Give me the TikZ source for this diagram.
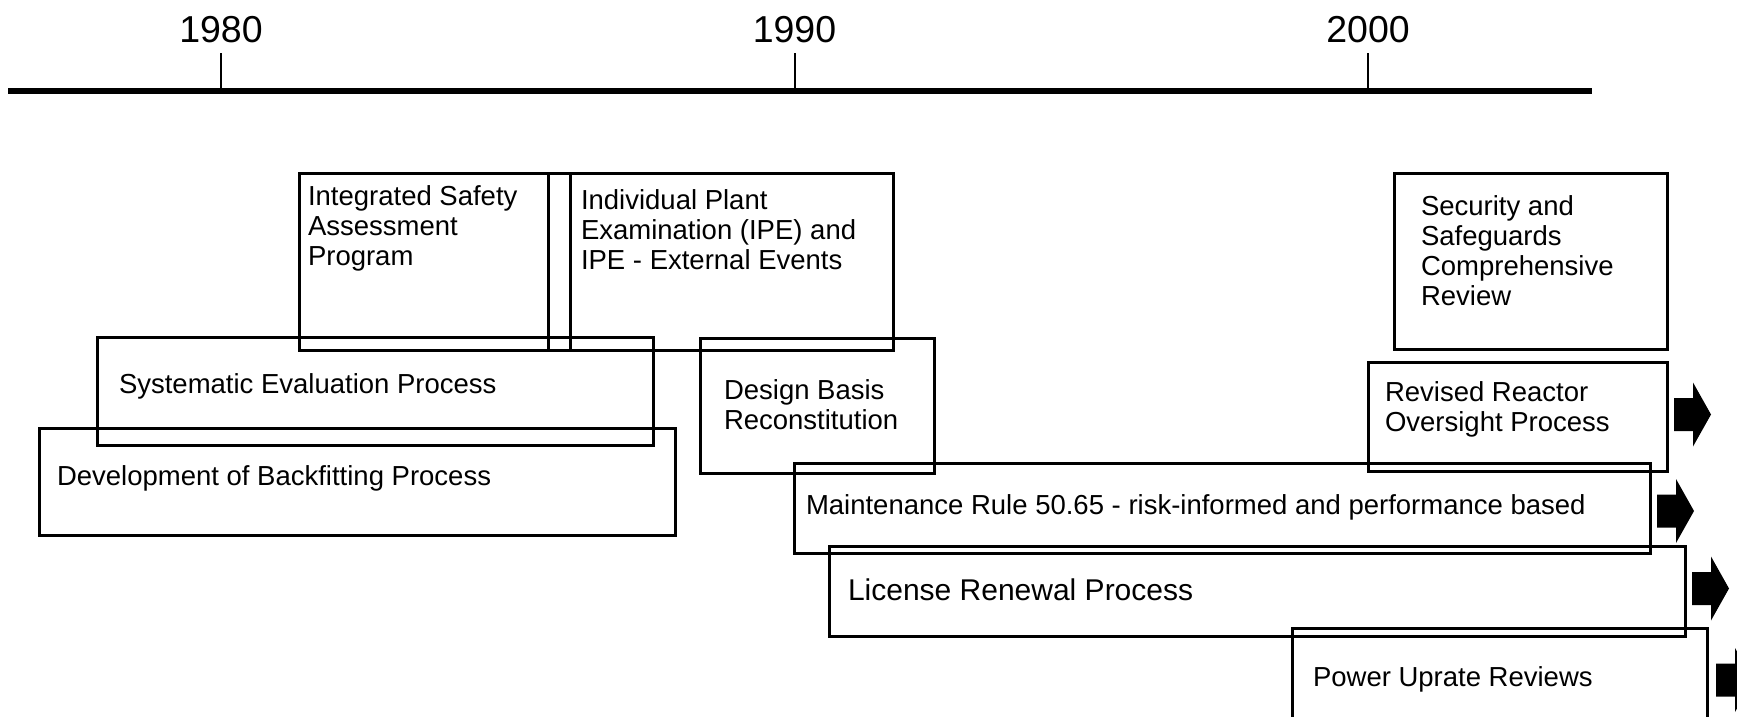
\documentclass[tikz,border=0pt]{standalone}
\usepackage{fontspec}
\setmainfont{Liberation Sans}
\begin{document}
\begin{tikzpicture}[x=1pt,y=-1pt,
  box/.style={draw, line width=3pt, rectangle, inner sep=0pt, outer sep=0pt, anchor=north west},
  lbl/.style={anchor=base west, inner sep=0pt, outer sep=0pt, align=left, font=\fontsize{27.5}{30}\selectfont},
  biglbl/.style={lbl, font=\fontsize{30}{33}\selectfont},
  year/.style={anchor=base, inner sep=0pt, font=\fontsize{37.5}{40}\selectfont},
  tick/.style={line width=2pt},
  axis/.style={line width=6pt},
  contarrow/.style={fill=black, draw=none}
]
\clip (0,0) rectangle (1737,717);
% timeline
\coordinate (axL) at (8,91);
\coordinate (axR) at (1592,91);
\draw[axis] (axL) -- (axR);
\foreach \x/\yr in {221/1980, 794.5/1990, 1368/2000}{
  \coordinate (t\yr) at (\x,91);
  \coordinate (tt\yr) at (\x,53);
  \draw[tick] (t\yr) -- (tt\yr);
  \node[year] (y\yr) at (\x,43) {\yr};
}
% boxes
\node[box, minimum width=271pt, minimum height=177pt] (isa) at (299,173) {};
\node[box, minimum width=345pt, minimum height=177pt] (ipe) at (548,173) {};
\node[box, minimum width=556pt, minimum height=108pt] (sep) at (97,337) {};
\node[box, minimum width=636pt, minimum height=107pt] (dbp) at (39,428) {};
\node[box, minimum width=234pt, minimum height=135pt] (dbr) at (700,338) {};
\node[box, minimum width=856pt, minimum height=90pt] (mr) at (794,463) {};
\node[box, minimum width=273pt, minimum height=176pt] (ssc) at (1394,173) {};
\node[box, minimum width=299pt, minimum height=109pt] (rrop) at (1368,362) {};
\node[box, minimum width=856pt, minimum height=90pt] (lrp) at (829,546) {};
\node[box, minimum width=415pt, minimum height=120pt] (pur) at (1292,628) {};
% labels (base anchor = baseline of last line)
\node[lbl] (isaT) at (308,265) {Integrated Safety\\Assessment\\Program};
\node[lbl] (ipeT) at (581,269) {Individual Plant\\Examination (IPE) and\\IPE - External Events};
\node[lbl] (sepT) at (119,393) {Systematic Evaluation Process};
\node[lbl] (dbpT) at (57,485) {Development of Backfitting Process};
\node[lbl] (dbrT) at (724,429) {Design Basis\\Reconstitution};
\node[lbl] (mrT) at (806,514) {Maintenance Rule 50.65 - risk-informed and performance based};
\node[lbl] (sscT) at (1421,305) {Security and\\Safeguards\\Comprehensive\\Review};
\node[lbl] (rropT) at (1385,431) {Revised Reactor\\Oversight Process};
\node[biglbl] (lrpT) at (848,600) {License Renewal Process};
\node[lbl] (purT) at (1313,686) {Power Uprate Reviews};
% continuation arrows
\newcommand{\contarr}[2]{%
  \fill[contarrow] (#1,#2-16.5) -- ++(19,0) -- ++(0,-15.5) -- (#1+37,#2) -- (#1+19,#2+32) -- ++(0,-15.5) -- (#1,#2+16.5) -- cycle;}
\contarr{1674}{414.5}
\contarr{1657}{511}
\contarr{1692}{588.5}
\contarr{1716}{680}
\end{tikzpicture}
\end{document}
